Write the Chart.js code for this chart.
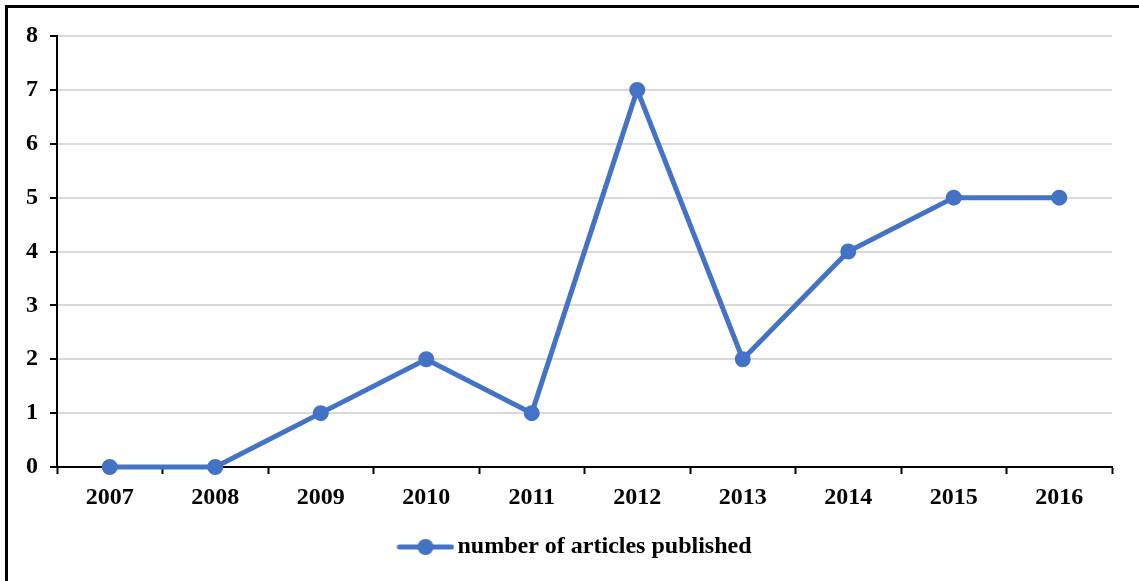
<!DOCTYPE html>
<html>
<head>
<meta charset="utf-8">
<script src="https://cdn.jsdelivr.net/npm/chart.js@4/dist/chart.umd.min.js"></script>
<style>
    body { margin: 0; background: #fff; overflow: hidden; }
    #wrap { position: relative; width: 1139px; height: 581px; overflow: hidden; }
    #frame { position: absolute; left: 5px; top: 5px; width: 1200px; height: 700px; border: 3px solid #000; box-sizing: border-box; pointer-events: none; }
    canvas { position: absolute; left: 0; top: 0; }
</style>
</head>
<body>
<div id="wrap">
    <canvas id="chart" width="1139" height="581"></canvas>
    <div id="frame"></div>
</div>
<script>
// data
const years = ['2007', '2008', '2009', '2010', '2011', '2012', '2013', '2014', '2015', '2016'];
const articles = [0, 0, 1, 2, 1, 7, 2, 4, 5, 5];
const seriesName = 'number of articles published';

const blue = '#4472C4';
const font = { family: '"Liberation Serif", "Times New Roman", serif', size: 24, weight: 'bold' };

// legend icon: line with a dot, like the office style marker
const legendIcon = document.createElement('canvas');
legendIcon.width = 58;
legendIcon.height = 18;
(function () {
    const c = legendIcon.getContext('2d');
    c.strokeStyle = blue;
    c.lineWidth = 5;
    c.lineCap = 'round';
    c.beginPath();
    c.moveTo(3, 9);
    c.lineTo(55, 9);
    c.stroke();
    c.fillStyle = blue;
    c.beginPath();
    c.arc(29, 9, 8, 0, Math.PI * 2);
    c.fill();
})();

new Chart(document.getElementById('chart').getContext('2d'), {
    type: 'line',
    data: {
        labels: years,
        datasets: [{
            label: seriesName,
            data: articles,
            borderColor: blue,
            backgroundColor: blue,
            borderWidth: 5,
            pointRadius: 7,
            pointBorderWidth: 2,
            pointBackgroundColor: blue,
            pointBorderColor: blue,
            tension: 0,
            clip: false
        }]
    },
    options: {
        responsive: false,
        animation: false,
        layout: { padding: { left: 18, right: 0, top: 36, bottom: 12 } },
        plugins: {
            tooltip: { enabled: false },
            legend: {
                position: 'bottom',
                labels: {
                    color: '#000',
                    font: font,
                    padding: 10,
                    usePointStyle: true,
                    pointStyle: legendIcon,
                    pointStyleWidth: 40
                }
            }
        },
        scales: {
            x: {
                offset: true,
                grid: {
                    display: true,
                    offset: true,
                    drawOnChartArea: false,
                    tickLength: 7,
                    tickColor: '#000',
                    tickWidth: 2
                },
                border: { display: true, color: '#000', width: 2 },
                ticks: { color: '#000', font: font, padding: 9, maxRotation: 0 },
                afterFit: s => { s.height = 58; }
            },
            y: {
                min: 0,
                max: 8,
                ticks: { stepSize: 1, color: '#000', font: font, padding: 12 },
                grid: {
                    color: ctx => ctx.tick && ctx.tick.value === 0 ? 'rgba(0,0,0,0)' : '#d9d9d9',
                    lineWidth: 2,
                    tickColor: '#000',
                    tickLength: 7,
                    tickWidth: 2
                },
                border: { display: true, color: '#000', width: 2 },
                afterFit: s => { s.width = 39; }
            },
            // empty axis, only keeps room on the right
            spacer: {
                position: 'right',
                ticks: { display: false },
                grid: { display: false },
                border: { display: false },
                afterFit: s => { s.width = 27; }
            }
        }
    }
});
</script>
</body>
</html>
